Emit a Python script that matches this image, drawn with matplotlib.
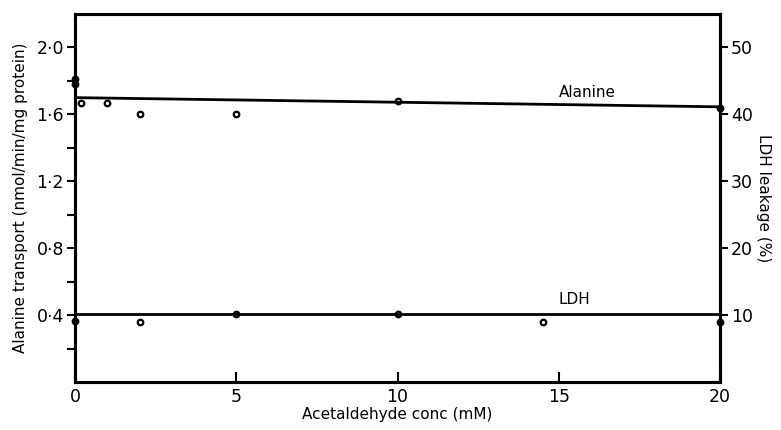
import matplotlib
matplotlib.use("Agg")
import matplotlib.pyplot as plt
from matplotlib.ticker import FixedLocator, FuncFormatter

# Alanine transport (nmol/min/mg protein), left axis
ala_x = [0, 0, 0.2, 1, 2, 5, 10, 20]
ala_y = [1.78, 1.81, 1.67, 1.67, 1.60, 1.60, 1.68, 1.64]
ala_fit_x = [0, 20]
ala_fit_y = [1.70, 1.645]

# LDH leakage (%), right axis
ldh_x = [0, 2, 5, 10, 14.5, 20]
ldh_y = [9.1, 9.0, 10.1, 10.2, 9.0, 9.0]
ldh_fit_x = [0, 20]
ldh_fit_y = [10.1, 10.1]

left_ticks = [0.4, 0.8, 1.2, 1.6, 2.0]
left_minor = [0.2, 0.6, 1.0, 1.4, 1.8]
right_ticks = [10, 20, 30, 40, 50]
x_ticks = [0, 5, 10, 15, 20]

plt.rcParams["font.family"] = ["DejaVu Sans"]

fig = plt.figure(figsize=(7.81, 4.30), dpi=100)
ax = fig.add_axes([75 / 781, 48 / 430, 645 / 781, 368 / 430])
ax2 = ax.twinx()

ax.plot(ala_fit_x, ala_fit_y, color="black", lw=2)
ax.plot(ala_x, ala_y, ls="none", marker="o", ms=4, mfc="none", mec="black",
        mew=1.6, clip_on=False)
ax2.plot(ldh_fit_x, ldh_fit_y, color="black", lw=2)
ax2.plot(ldh_x, ldh_y, ls="none", marker="o", ms=4, mfc="none", mec="black",
         mew=1.6, clip_on=False)

ax.set_xlim(0, 20)
ax.set_ylim(0, 2.2)
ax2.set_ylim(0, 55)

ax.yaxis.set_major_locator(FixedLocator(left_ticks))
ax.yaxis.set_minor_locator(FixedLocator(left_minor))
ax.yaxis.set_major_formatter(FuncFormatter(lambda v, p: f"{v:.1f}".replace(".", "\u00b7")))
ax.xaxis.set_major_locator(FixedLocator(x_ticks))
ax2.yaxis.set_major_locator(FixedLocator(right_ticks))

ax.tick_params(axis="y", direction="out", length=6, width=1.5, labelsize=12.5, pad=2)
ax.tick_params(axis="y", which="minor", direction="out", length=6, width=1.5)
ax.tick_params(axis="x", direction="in", length=7, width=1.5, labelsize=12.5, pad=4)
ax2.tick_params(axis="y", direction="out", length=6, width=1.5, labelsize=12.5, pad=2)

for a in (ax, ax2):
    for s in a.spines.values():
        s.set_linewidth(2.2)

ax.set_xlabel("Acetaldehyde conc (mM)", fontsize=11, labelpad=1)
ax.set_ylabel("Alanine transport (nmol/min/mg protein)", fontsize=11, labelpad=6)
ax2.set_ylabel("LDH leakage (%)", fontsize=11, rotation=270, labelpad=13)

ax.text(15.9, 1.73, "Alanine", fontsize=11, ha="center", va="center")
ax.text(15.5, 0.495, "LDH", fontsize=11, ha="center", va="center")

fig.savefig("out.png", dpi=100)
